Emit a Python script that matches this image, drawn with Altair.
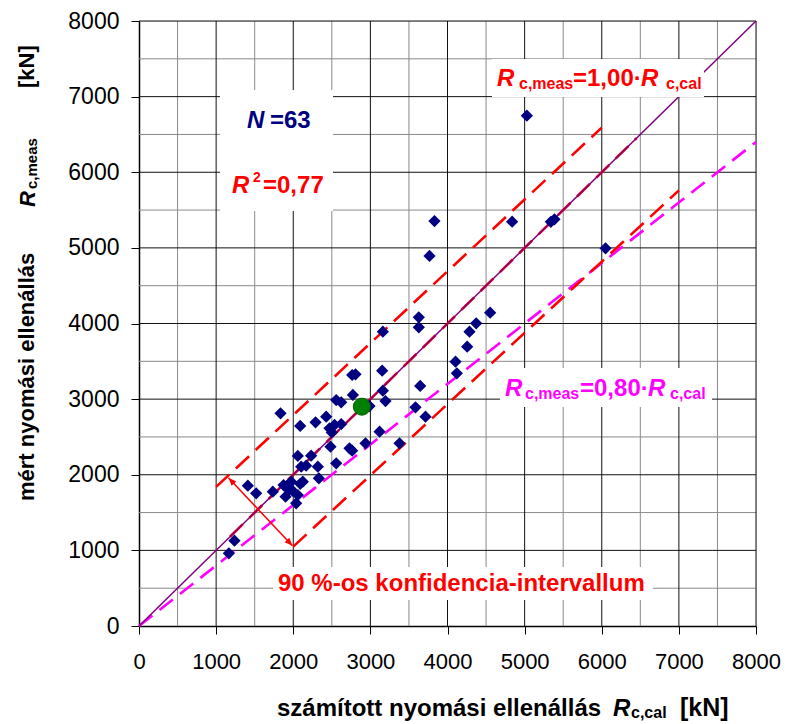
import altair as alt
import pandas as pd

# ---- data ----
R_CAL = [1165, 1238, 1411, 1519, 1735, 1835, 1874, 1900, 1943, 1973,
         2038, 2059, 2059, 2090, 2124, 2103, 2167, 2232, 2289, 2319,
         2332, 2427, 2470, 2483, 2535, 2557, 2557, 2622, 2622, 2729,
         2764, 2764, 2807, 2773, 2937, 2989, 3119, 3153, 3162, 3162,
         3196, 3378, 3585, 3646, 3715, 3628, 3628, 4104, 4121, 5029,
         4838, 5387, 5340, 6049, 4553, 4372, 4285, 4255, 3831, 3767,
         1990, 2090, 2500]
R_MEAS = [961, 1128, 1855, 1754, 1776, 2812, 1864, 1710, 1798, 1908,
          1622, 1732, 2248, 2645, 1908, 2107, 2120, 2252, 2693, 2107,
          1953, 2768, 2614, 2371, 2658, 2151, 2988, 2958, 2671, 2350,
          2318, 3319, 3328, 3055, 2416, 2909, 2570, 3376, 3892, 3112,
          2975, 2416, 2892, 3174, 2768, 4082, 3950, 3495, 3341, 6748,
          5347, 5377, 5345, 4994, 4143, 4002, 3892, 3694, 5355, 4893,
          1790, 1880, 2560]
MEAN_CAL = [2889]
MEAN_MEAS = [2900]

TICKS = [0, 1000, 2000, 3000, 4000, 5000, 6000, 7000, 8000]
MAJOR_GRID = [1000, 2000, 3000, 4000, 5000, 6000, 7000, 8000]
MINOR_GRID = [500, 1500, 2500, 3500, 4500, 5500, 6500, 7500]

LINE_100_X = [0, 8000]
LINE_100_Y = [0, 8000]
LINE_080_X = [0, 8000]
LINE_080_Y = [0, 6400]
FIT_X = [1180, 6450]
FIT_Y = [1180, 6450]
UPPER_X = [1000, 6000]
UPPER_Y = [1840, 6590]
LOWER_X = [2000, 7000]
LOWER_Y = [1050, 5760]
ARROW_X = [1160, 1990]
ARROW_Y = [1960, 1060]
ARROW_ANGLE = [316.8, 136.8]

FONT = "Liberation Sans"
RED = "#FF0000"
MAGENTA = "#FF00FF"
NAVY = "#000080"

W, H = 617, 605

xs = alt.Scale(domain=[0, 8000], nice=False, zero=False)
ys = alt.Scale(domain=[0, 8000], nice=False, zero=False)

AX_X = alt.Axis(values=TICKS, format="d", grid=False, title=None, labelFont=FONT,
                labelFontSize=22, labelColor="black", tickColor="black",
                tickSize=8, tickWidth=1, domainColor="black", domainWidth=1.5,
                labelPadding=17, labelFlush=False, labelOverlap=False)
AX_Y = alt.Axis(values=TICKS, format="d", grid=False, title=None, labelFont=FONT,
                labelFontSize=23, labelColor="black", tickColor="black",
                tickSize=8, tickWidth=1, domainColor="black", domainWidth=1.5,
                labelPadding=12, labelFlush=False, labelOverlap=False)


def X(f):
    return alt.X(f, type="quantitative", scale=xs, axis=AX_X)


def Y(f):
    return alt.Y(f, type="quantitative", scale=ys, axis=AX_Y)


pts = pd.DataFrame({"cal": R_CAL, "meas": R_MEAS})
mean = pd.DataFrame({"cal": MEAN_CAL, "meas": MEAN_MEAS})
major = pd.DataFrame({"g": MAJOR_GRID})
minor = pd.DataFrame({"g": MINOR_GRID})


def seg(xv, yv):
    return pd.DataFrame({"cal": xv, "meas": yv, "o": list(range(len(xv)))})


def grid_rules(df, color):
    v = alt.Chart(df).mark_rule(color=color, strokeWidth=1).encode(
        x=alt.X("g:Q", scale=xs, axis=AX_X))
    h = alt.Chart(df).mark_rule(color=color, strokeWidth=1).encode(
        y=alt.Y("g:Q", scale=ys, axis=AX_Y))
    return [v, h]


grids = grid_rules(minor, "#8a8a8a") + grid_rules(major, "#111111")


def line(df, color, width, dash=None):
    kw = dict(color=color, strokeWidth=width)
    if dash:
        kw["strokeDash"] = dash
    return alt.Chart(df).mark_line(**kw).encode(x=X("cal"), y=Y("meas"), order="o:Q")


l080 = line(seg(LINE_080_X, LINE_080_Y), MAGENTA, 2.6, [17, 9])
lup = line(seg(UPPER_X, UPPER_Y), RED, 2.6, [18, 9])
llo = line(seg(LOWER_X, LOWER_Y), RED, 2.6, [18, 9])
lfit = line(seg(FIT_X, FIT_Y), RED, 2.6, [18, 9])
l100 = line(seg(LINE_100_X, LINE_100_Y), "#800080", 1.5)
arrow = line(seg(ARROW_X, ARROW_Y), RED, 1.5)
heads = alt.Chart(pd.DataFrame({"cal": ARROW_X, "meas": ARROW_Y, "a": ARROW_ANGLE})).mark_point(
    shape="M0,0L-0.4,1L0.4,1Z", filled=True, size=260, color=RED, opacity=1).encode(
    x=X("cal"), y=Y("meas"), angle=alt.Angle("a:Q", scale=None))

ONE = alt.Data(values=[{"a": 1}])


def box(x1, x2, y1, y2):
    return alt.Chart(ONE).mark_rect(color="white").encode(
        x=alt.value(x1), x2=alt.value(x2), y=alt.value(y1), y2=alt.value(y2))


boxes = [box(81, 194, 69, 190), box(353, 565, 38, 76),
         box(361, 573, 347, 386), box(134, 514, 546, 579)]

diamonds = alt.Chart(pts).mark_point(shape="diamond", filled=True, size=150,
                                     color=NAVY, opacity=1).encode(x=X("cal"), y=Y("meas"))
green = alt.Chart(mean).mark_point(shape="circle", filled=True, size=290, color="#008000",
                                   stroke="#006000", strokeWidth=1, opacity=1).encode(
    x=X("cal"), y=Y("meas"))


def txt(s, x, y, size, color, italic=False, angle=0):
    return alt.Chart(ONE).mark_text(
        text=s, font=FONT, fontSize=size, fontWeight="bold",
        fontStyle="italic" if italic else "normal", color=color,
        align="left", baseline="alphabetic", angle=angle).encode(
        x=alt.value(x), y=alt.value(y))


texts = [
    # in-plot annotations
    txt("N", 108, 107, 24, NAVY, True),
    txt("=63", 131, 107, 24, NAVY),
    txt("R", 93, 172, 24, RED, True),
    txt("2", 114, 161, 14, RED),
    txt("=0,77", 124, 172, 24, RED),
    txt("R", 358, 65, 24, RED, True),
    txt("c,meas", 380, 68, 16, RED),
    txt("=1,00\u00b7", 434, 65, 24, RED),
    txt("R", 502, 65, 24, RED, True),
    txt("c,cal", 527, 68, 16, RED),
    txt("R", 366, 375, 24, MAGENTA, True),
    txt("c,meas", 386, 378, 16, MAGENTA),
    txt("=0,80\u00b7", 441, 375, 24, MAGENTA),
    txt("R", 509, 375, 24, MAGENTA, True),
    txt("c,cal", 531, 378, 16, MAGENTA),
    txt("90 %-os konfidencia-intervallum", 139, 570, 24, RED),
    # x axis title
    txt("számított nyomási ellenállás", 138, 695, 24, "black"),
    txt("R", 474, 695, 24, "black", True),
    txt("c,cal", 492, 697, 16, "black"),
    txt("[kN]", 541, 695, 25, "black"),
    # y axis title
    txt("mért nyomási ellenállás", -105, 480, 22, "black", False, 270),
    txt("R", -104, 186, 22, "black", True, 270),
    txt("c,meas", -102, 168, 15, "black", False, 270),
    txt("[kN]", -105, 67, 22, "black", False, 270),
]

chart = alt.layer(
    *grids, l080, lup, llo, lfit, l100, arrow, heads, *boxes,
    diamonds, green, *texts
).properties(
    width=W, height=H,
    autosize=alt.AutoSizeParams(type="none"),
    padding={"left": 131, "top": 13, "right": 25, "bottom": 96},
).configure_view(strokeWidth=0).configure(background="white")

chart.save("out.html", embed_options={"renderer": "svg", "actions": False})
